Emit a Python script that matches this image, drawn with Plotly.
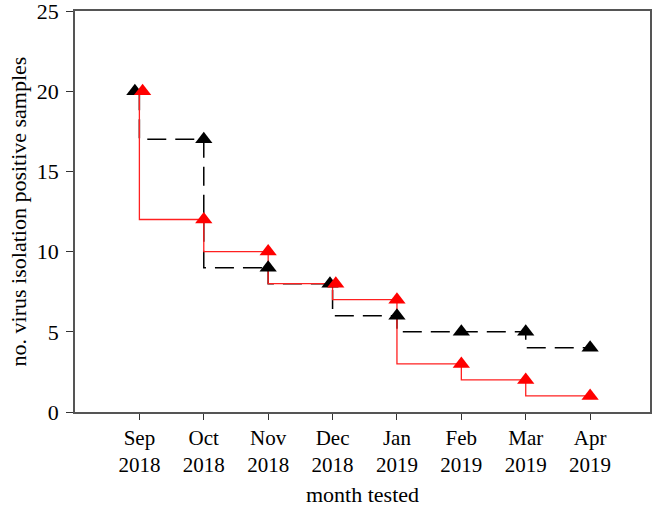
import plotly.graph_objects as go

months = ["Sep<br>2018", "Oct<br>2018", "Nov<br>2018", "Dec<br>2018",
          "Jan<br>2019", "Feb<br>2019", "Mar<br>2019", "Apr<br>2019"]
month_idx = [1, 2, 3, 4, 5, 6, 7, 8]
black_vals = [20, 17, 9, 8, 6, 5, 5, 4]
red_vals = [20, 12, 10, 8, 7, 3, 2, 1]
# small horizontal jitter of the markers where the two series coincide
black_jitter = [-0.07, 0, 0, -0.04, 0, 0, 0, 0]
red_jitter = [0.05, 0, 0, 0.05, 0, 0, 0, 0]

fig = go.Figure()
fig.add_trace(go.Scatter(x=month_idx, y=black_vals, mode="lines", line_shape="vh",
                         line=dict(color="black", width=1.5, dash="19px,9px"),
                         showlegend=False, hoverinfo="skip"))
fig.add_trace(go.Scatter(x=month_idx, y=red_vals, mode="lines", line_shape="vh",
                         line=dict(color="#ff2020", width=1.3),
                         showlegend=False, hoverinfo="skip"))
fig.add_trace(go.Scatter(x=[m + j for m, j in zip(month_idx, black_jitter)], y=black_vals,
                         mode="markers",
                         marker=dict(symbol="triangle-up", size=15, color="black"),
                         showlegend=False))
fig.add_trace(go.Scatter(x=[m + j for m, j in zip(month_idx, red_jitter)], y=red_vals,
                         mode="markers",
                         marker=dict(symbol="triangle-up", size=15, color="#ff0000"),
                         showlegend=False))

font_family = "Liberation Serif"
fig.update_layout(
    width=653, height=507,
    margin=dict(l=75, r=3, t=11, b=95),
    plot_bgcolor="white", paper_bgcolor="white",
    font=dict(family=font_family, size=21, color="black"),
)
fig.update_xaxes(
    range=[0, 8.93], tickmode="array", tickvals=month_idx, ticktext=months,
    ticks="outside", ticklen=6, tickcolor="#333", showgrid=False, zeroline=False,
    showline=True, linecolor="#555", linewidth=1.5, mirror=True, automargin=False,
    ticklabeloverflow="allow",
    tickfont=dict(size=21), title=dict(text="month tested", font=dict(size=22), standoff=11),
)
fig.update_yaxes(
    range=[0, 25], tickvals=[0, 5, 10, 15, 20, 25],
    ticks="outside", ticklen=7, tickcolor="#333", showgrid=False, zeroline=False,
    showline=True, linecolor="#555", linewidth=1.5, mirror=True, automargin=False,
    ticklabeloverflow="allow", ticklabelstandoff=3,
    tickfont=dict(size=22),
    title=dict(text="no. virus isolation positive samples", font=dict(size=22), standoff=4),
)
fig.write_html("out.html", config={"displayModeBar": False},
               post_script="document.body.style.margin='0';document.body.style.padding='0';")
